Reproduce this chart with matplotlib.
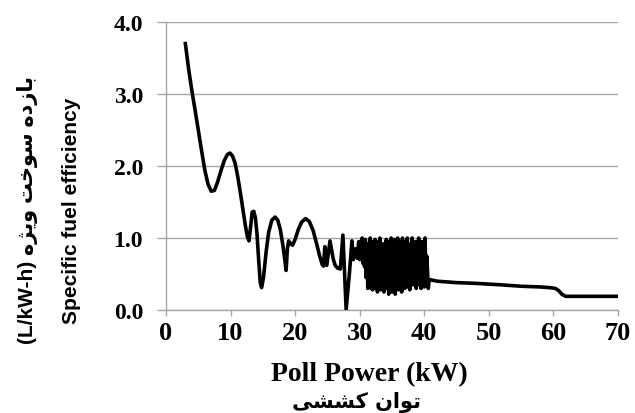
import matplotlib
matplotlib.use("Agg")
import matplotlib.pyplot as plt

# Pull power (kW) and specific fuel efficiency (L/kW-h), low-load part
power_low = [3.0, 3.5, 4.0, 4.5, 5.0, 5.5, 6.0, 6.5, 7.0, 7.5, 8.0, 8.5,
             9.0, 9.5, 9.9, 10.3, 10.7, 11.1, 11.5, 11.9, 12.3, 12.6, 12.85,
             13.1, 13.35, 13.6, 13.85, 14.1, 14.35, 14.6, 14.8, 15.1, 15.5,
             15.9, 16.4, 16.9, 17.3, 17.7, 18.1, 18.4, 18.6, 18.8, 19.0,
             19.3, 19.6, 20.0, 20.5, 21.0, 21.6, 22.2, 22.8, 23.3, 23.8,
             24.2, 24.4, 24.6, 24.9, 25.4, 25.9, 26.2, 26.6, 27.0, 27.4,
             27.9, 28.4, 28.8, 29.0, 29.3, 29.6, 29.85]
sfc_low = [3.70, 3.35, 3.05, 2.78, 2.50, 2.22, 1.95, 1.75, 1.65, 1.66, 1.78,
           1.93, 2.07, 2.16, 2.18, 2.14, 2.04, 1.86, 1.64, 1.40, 1.17, 1.02,
           0.96, 1.15, 1.36, 1.37, 1.28, 1.05, 0.70, 0.38, 0.31, 0.45, 0.80,
           1.08, 1.25, 1.29, 1.25, 1.12, 0.90, 0.70, 0.55, 0.85, 0.96,
           0.92, 0.90, 0.98, 1.12, 1.22, 1.27, 1.23, 1.10, 0.93, 0.75,
           0.63, 0.61, 0.88, 0.62, 0.96, 0.71, 0.62, 0.58, 0.57, 1.04,
           0.01, 0.50, 0.96, 0.70, 0.85, 0.72, 0.95]

# unstable band between 30 and 41 kW
power_band = [30.0, 30.125, 30.25, 30.375, 30.5, 30.625, 30.75, 30.875,
              31.0, 31.125, 31.25, 31.375, 31.5, 31.625, 31.75, 31.875,
              32.0, 32.125, 32.25, 32.375, 32.5, 32.625, 32.75, 32.875,
              33.0, 33.125, 33.25, 33.375, 33.5, 33.625, 33.75, 33.875,
              34.0, 34.125, 34.25, 34.375, 34.5, 34.625, 34.75, 34.875,
              35.0, 35.125, 35.25, 35.375, 35.5, 35.625, 35.75, 35.875,
              36.0, 36.125, 36.25, 36.375, 36.5, 36.625, 36.75, 36.875,
              37.0, 37.125, 37.25, 37.375, 37.5, 37.625, 37.75, 37.875,
              38.0, 38.125, 38.25, 38.375, 38.5, 38.625, 38.75, 38.875,
              39.0, 39.125, 39.25, 39.375, 39.5, 39.625, 39.75, 39.875,
              40.0, 40.125, 40.25, 40.375, 40.5, 40.625, 40.75]
sfc_band = [0.70, 0.95, 0.72, 1.00, 0.65, 0.90, 0.60, 0.98,
            0.45, 0.92, 0.30, 0.85, 0.35, 1.00, 0.30, 0.95,
            0.28, 0.90, 0.40, 0.98, 0.30, 0.80, 0.25, 0.95,
            0.35, 1.00, 0.28, 0.85, 0.40, 0.92, 0.25, 0.88,
            0.30, 0.98, 0.35, 0.82, 0.22, 0.95, 0.30, 1.00,
            0.25, 0.90, 0.38, 0.98, 0.22, 0.85, 0.30, 1.00,
            0.28, 0.95, 0.40, 0.88, 0.25, 1.00, 0.35, 0.80,
            0.30, 0.95, 0.45, 1.00, 0.32, 0.85, 0.28, 0.92,
            0.40, 1.00, 0.35, 0.88, 0.45, 0.95, 0.30, 0.75,
            0.35, 1.00, 0.42, 0.90, 0.30, 0.95, 0.50, 0.85,
            0.32, 1.00, 0.40, 0.75, 0.55, 0.30, 0.42]

# high-load part
power_high = [41.0, 42.0, 45.0, 48.0, 51.8, 55.0, 58.0, 59.5, 60.3, 60.8,
              61.3, 61.9, 63.0, 70.0]
sfc_high = [0.42, 0.40, 0.38, 0.37, 0.35, 0.33, 0.32, 0.31, 0.30, 0.27,
            0.22, 0.19, 0.19, 0.19]

power = power_low + power_band + power_high
sfc = sfc_low + sfc_band + sfc_high

x_ticks = [0, 10, 20, 30, 40, 50, 60, 70]
y_ticks = [0.0, 1.0, 2.0, 3.0, 4.0]

# joining forms: isolated, final, initial, medial (None -> letter does not join forward)
FORMS = {
    "\u0627": ("\uFE8D", "\uFE8E", None, None),
    "\u0628": ("\uFE8F", "\uFE90", "\uFE91", "\uFE92"),
    "\u062A": ("\uFE95", "\uFE96", "\uFE97", "\uFE98"),
    "\u062E": ("\uFEA5", "\uFEA6", "\uFEA7", "\uFEA8"),
    "\u062F": ("\uFEA9", "\uFEAA", None, None),
    "\u0632": ("\uFEAF", "\uFEB0", None, None),
    "\u0698": ("\uFB8A", "\uFB8B", None, None),
    "\u0633": ("\uFEB1", "\uFEB2", "\uFEB3", "\uFEB4"),
    "\u0634": ("\uFEB5", "\uFEB6", "\uFEB7", "\uFEB8"),
    "\u06A9": ("\uFB8E", "\uFB8F", "\uFB90", "\uFB91"),
    "\u0646": ("\uFEE5", "\uFEE6", "\uFEE7", "\uFEE8"),
    "\u0647": ("\uFEE9", "\uFEEA", "\uFEEB", "\uFEEC"),
    "\u0648": ("\uFEED", "\uFEEE", None, None),
    "\u06CC": ("\uFBFC", "\uFBFD", "\uFBFE", "\uFBFF"),
}


def shape_rtl(text):
    """Pick contextual letter forms and lay the run out left-to-right."""
    out = []
    for i, ch in enumerate(text):
        if ch not in FORMS:
            out.append(ch)
            continue
        prev = text[i - 1] if i > 0 else ""
        nxt = text[i + 1] if i + 1 < len(text) else ""
        join_prev = prev in FORMS and FORMS[prev][2] is not None
        join_next = nxt in FORMS and FORMS[ch][2] is not None
        iso, fin, ini, med = FORMS[ch]
        if join_prev and join_next:
            out.append(med)
        elif join_prev:
            out.append(fin)
        elif join_next:
            out.append(ini)
        else:
            out.append(iso)
    return "".join(reversed(out))


fig = plt.figure(figsize=(6.35, 4.14), dpi=100)
ax = fig.add_axes([0.2614, 0.2488, 0.7118, 0.6956])

grid_col = "#a6a6a6"
ax.plot(power, sfc, color="black", linewidth=2.6, solid_joinstyle="round", zorder=3)

ax.set_xlim(0, 70)
ax.set_ylim(0, 4)
ax.set_xticks(x_ticks)
ax.set_yticks(y_ticks)
ax.set_xticklabels([str(t) for t in x_ticks], fontfamily="Liberation Serif",
                   fontweight="bold", fontsize=19)
ax.set_yticklabels([f"{t:.1f}" for t in y_ticks], fontfamily="Liberation Serif",
                   fontweight="bold", fontsize=17)
ax.grid(axis="y", color=grid_col, linewidth=1.0)
ax.set_axisbelow(True)
for side in ["top", "right"]:
    ax.spines[side].set_visible(False)
for side in ["left", "bottom"]:
    ax.spines[side].set_color(grid_col)
    ax.spines[side].set_linewidth(1.0)
ax.tick_params(axis="x", direction="out", length=4, width=1.0, color=grid_col, pad=4)
ax.tick_params(axis="y", direction="out", length=6.5, width=1.0, color=grid_col, pad=10)

ylab_fonts = ["Liberation Sans", "DejaVu Sans"]
fig.text(0.044, 0.493, "(L/kW-h) " + shape_rtl("بازده سوخت ویژه"),
         rotation=90, ha="center", va="center", fontsize=15,
         family=ylab_fonts, fontweight="bold")
fig.text(0.113, 0.49, "Specific fuel efficiency", rotation=90, ha="center",
         va="center", fontsize=15, family=ylab_fonts, fontweight="bold")

fig.text(0.581, 0.094, "Poll Power (kW)", ha="center", va="center",
         fontsize=20, fontfamily="Liberation Serif", fontweight="bold")
fig.text(0.562, 0.027, shape_rtl("توان کششی"), ha="center", va="center",
         fontsize=15, fontfamily="DejaVu Sans", fontweight="bold")

fig.savefig("out.png", dpi=100)
